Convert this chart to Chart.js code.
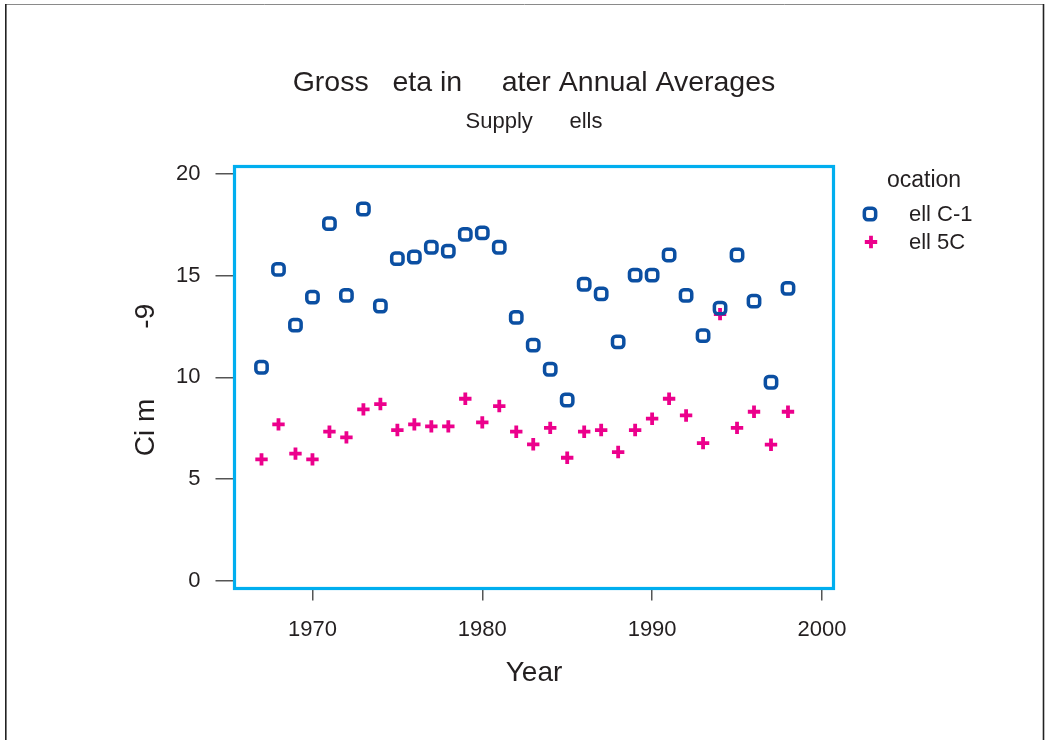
<!DOCTYPE html>
<html>
<head>
<meta charset="utf-8">
<script src="https://cdn.jsdelivr.net/npm/chart.js@4/dist/chart.umd.min.js"></script>
<style>
  html, body { margin: 0; padding: 0; background: #fff; }
  #wrap { width: 1050px; height: 740px; }
</style>
</head>
<body>
<div id="wrap"><canvas id="chart" width="1050" height="740"></canvas></div>
<script>
// data
const years = [1967, 1968, 1969, 1970, 1971, 1972, 1973, 1974, 1975, 1976, 1977,
  1978, 1979, 1980, 1981, 1982, 1983, 1984, 1985, 1986, 1987, 1988, 1989,
  1990, 1991, 1992, 1993, 1994, 1995, 1996, 1997, 1998];
const wellC1 = [10.5, 15.31, 12.57, 13.95, 17.56, 14.03, 18.28, 13.51, 15.84, 15.92, 16.4,
  16.21, 17.03, 17.11, 16.4, 12.95, 11.59, 10.4, 8.89, 14.58, 14.11, 11.75, 15.03,
  15.03, 16.02, 14.03, 12.05, 13.41, 16.02, 13.75, 9.76, 14.38];
const well5C = [5.97, 7.69, 6.25, 5.97, 7.33, 7.05, 8.43, 8.69, 7.41, 7.69, 7.59,
  7.59, 8.95, 7.79, 8.59, 7.33, 6.71, 7.52, 6.05, 7.33, 7.41, 6.33, 7.41,
  7.97, 8.95, 8.13, 6.77, 13.11, 7.52, 8.31, 6.69, 8.31];
const seriesNames = ['ell C-1', 'ell 5C'];
const xTicks = [1970, 1980, 1990, 2000];
const yTicks = [0, 5, 10, 15, 20];

const FONT = '"Liberation Sans", Arial, Helvetica, sans-serif';
const INK = '#231f20';
const BLUE = '#0b4fa2';
const PINK = '#ec008c';
const CYAN = '#00aeef';

const blueStyle = { pointStyle: 'rectRounded', radius: 6.6, borderWidth: 3.5, rotation: 0 };
const pinkStyle = { pointStyle: 'cross', radius: 6.2, borderWidth: 3.8, rotation: 0 };

function toPoints(vals) {
  return years.map((y, i) => ({ x: y, y: vals[i] }));
}

const decor = {
  id: 'decor',
  beforeDraw(chart) {
    const ctx = chart.ctx;
    ctx.save();
    ctx.fillStyle = '#fff';
    ctx.fillRect(0, 0, chart.width, chart.height);
    // outer frame
    ctx.strokeStyle = '#8a8a8a';
    ctx.lineWidth = 1;
    ctx.beginPath();
    ctx.moveTo(5, 4.5); ctx.lineTo(1044, 4.5);
    ctx.stroke();
    ctx.strokeStyle = '#222';
    ctx.lineWidth = 1.6;
    ctx.beginPath();
    ctx.moveTo(5.8, 4); ctx.lineTo(5.8, 740);
    ctx.moveTo(1043.5, 4); ctx.lineTo(1043.5, 740);
    ctx.stroke();
    ctx.restore();
  },
  beforeDatasetsDraw(chart) {
    const { ctx, chartArea: a } = chart;
    ctx.save();
    ctx.strokeStyle = CYAN;
    ctx.lineWidth = 3.2;
    ctx.strokeRect(a.left, a.top, a.right - a.left, a.bottom - a.top);
    ctx.restore();
  },
  afterDraw(chart) {
    const { ctx, chartArea: a } = chart;
    const cx = (a.left + a.right) / 2;
    ctx.save();
    ctx.fillStyle = INK;
    ctx.textBaseline = 'alphabetic';
    ctx.textAlign = 'center';
    ctx.font = '28.5px ' + FONT;
    ctx.fillText('Gross   eta in     ater Annual Averages', cx, 91);
    ctx.font = '22px ' + FONT;
    ctx.fillText('Supply      ells', cx, 128);

    // axis titles
    ctx.font = '28px ' + FONT;
    ctx.textBaseline = 'middle';
    ctx.fillText('Year', cx, 673);
    ctx.save();
    ctx.translate(146, 380);
    ctx.rotate(-Math.PI / 2);
    ctx.fillText('Ci m         -9', 0, 0);
    ctx.restore();

    // legend
    ctx.textAlign = 'left';
    ctx.font = '23px ' + FONT;
    ctx.fillText('ocation', 887, 181);
    ctx.font = '22px ' + FONT;
    ctx.fillText(seriesNames[0], 909, 215);
    ctx.fillText(seriesNames[1], 909, 243);
    ctx.fillStyle = 'rgba(0,0,0,0)';
    ctx.lineWidth = blueStyle.borderWidth;
    ctx.strokeStyle = BLUE;
    Chart.helpers.drawPoint(ctx, blueStyle, 870, 214);
    ctx.lineWidth = pinkStyle.borderWidth;
    ctx.strokeStyle = PINK;
    Chart.helpers.drawPoint(ctx, pinkStyle, 871, 242);
    ctx.restore();
  }
};

new Chart(document.getElementById('chart'), {
  type: 'scatter',
  data: {
    datasets: [
      {
        label: seriesNames[0],
        data: toPoints(wellC1),
        pointStyle: blueStyle.pointStyle,
        pointRadius: blueStyle.radius,
        borderWidth: blueStyle.borderWidth,
        borderColor: BLUE,
        backgroundColor: 'rgba(0,0,0,0)'
      },
      {
        label: seriesNames[1],
        data: toPoints(well5C),
        pointStyle: pinkStyle.pointStyle,
        pointRadius: pinkStyle.radius,
        borderWidth: pinkStyle.borderWidth,
        borderColor: PINK,
        backgroundColor: PINK
      }
    ]
  },
  options: {
    responsive: false,
    devicePixelRatio: 1,
    animation: false,
    events: [],
    clip: false,
    layout: { padding: { left: 0, right: 216.5, top: 166.5, bottom: 0 } },
    plugins: {
      legend: { display: false },
      title: { display: false },
      tooltip: { enabled: false }
    },
    scales: {
      x: {
        type: 'linear',
        min: 1965.41,
        max: 2000.68,
        afterBuildTicks: s => { s.ticks = xTicks.map(v => ({ value: v })); },
        afterFit: s => { s.height = 151.5; },
        grid: { drawOnChartArea: false, drawTicks: true, tickLength: 12, color: '#555', lineWidth: 1.5 },
        border: { display: false },
        ticks: {
          padding: 16,
          color: INK,
          font: { family: FONT, size: 22 },
          callback: v => String(v),
          maxRotation: 0,
          autoSkip: false
        }
      },
      y: {
        type: 'linear',
        min: -0.38,
        max: 20.37,
        afterBuildTicks: s => { s.ticks = yTicks.map(v => ({ value: v })); },
        afterFit: s => { s.width = 234.5; },
        grid: { drawOnChartArea: false, drawTicks: true, tickLength: 19, color: '#555', lineWidth: 1.5 },
        border: { display: false },
        ticks: {
          padding: 15,
          color: INK,
          font: { family: FONT, size: 22 },
          callback: v => String(v),
          autoSkip: false
        }
      }
    }
  },
  plugins: [decor]
});
</script>
</body>
</html>
